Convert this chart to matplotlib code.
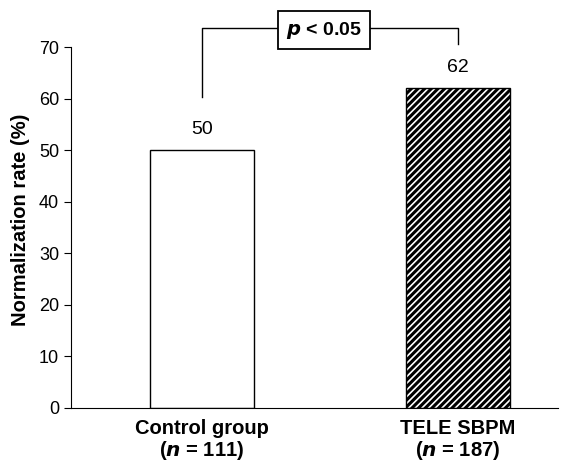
import matplotlib
matplotlib.use('Agg')
import matplotlib.pyplot as plt

plt.rcParams['font.family'] = ['Liberation Sans', 'DejaVu Sans']
plt.rcParams['hatch.linewidth'] = 2.2

groups = ['Control group', 'TELE SBPM']
group_n = ['111', '187']
rates = [50, 62]
y_ticks = [0, 10, 20, 30, 40, 50, 60, 70]

fig = plt.figure(figsize=(5.79, 4.61), dpi=100)
ax = fig.add_axes([0.1226, 0.115, 0.841, 0.783])

x = [0, 1]
ax.bar(x[0], rates[0], width=0.405, color='white', edgecolor='black', linewidth=1)
ax.bar(x[1], rates[1], width=0.405, color='white', edgecolor='black', linewidth=1, hatch='/////')

# value labels
for xi, r in zip(x, rates):
    ax.text(xi, r + 4.0, str(r), ha='center', va='center', fontsize=14)

# significance bracket
ax.plot([x[0], x[0], x[1], x[1]], [60.3, 73.7, 73.7, 70.6], color='black', lw=1, clip_on=False)
ax.text(0.478, 73.3, r'$\bfit{p}$' + ' < 0.05', ha='center', va='center', fontsize=14, fontweight='bold',
        bbox=dict(facecolor='white', edgecolor='black', boxstyle='square,pad=0.42', lw=1.3))

ax.set_xlim(-0.51, 1.39)
ax.set_ylim(0, 70)
ax.set_yticks(y_ticks)
ax.tick_params(axis='y', labelsize=13, length=5, direction='out')
ax.set_xticks(x)
ax.set_xticklabels([f'{g}\n($\\bfit{{n}}$ = {n})' for g, n in zip(groups, group_n)],
                   fontsize=14.5, fontweight='bold', linespacing=1.05)
ax.tick_params(axis='x', length=0, pad=8)
ax.set_ylabel('Normalization rate (%)', fontsize=14.5, fontweight='bold')
ax.yaxis.set_label_coords(-0.085, 0.52)

ax.spines['top'].set_visible(False)
ax.spines['right'].set_visible(False)

fig.savefig('out.png', dpi=100)
